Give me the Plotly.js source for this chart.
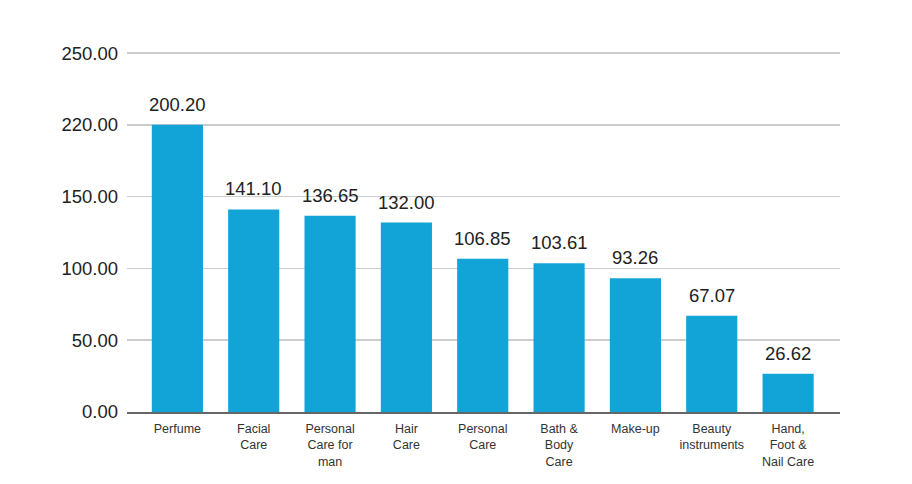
<!DOCTYPE html>
<html>
<head>
<meta charset="utf-8">
<script src="https://cdn.plot.ly/plotly-3.0.1.min.js"></script>
<style>html,body{margin:0;padding:0;background:#fff;}#chart{width:912px;height:484px;}</style>
</head>
<body>
<div id="chart"></div>
<script>
const categories = ["Perfume", "Facial<br>Care", "Personal<br>Care for<br>man", "Hair<br>Care", "Personal<br>Care", "Bath &<br>Body<br>Care", "Make-up", "Beauty<br>instruments", "Hand,<br>Foot &<br>Nail Care"];
const values = [200.20, 141.10, 136.65, 132.00, 106.85, 103.61, 93.26, 67.07, 26.62];
const valueLabels = ["200.20", "141.10", "136.65", "132.00", "106.85", "103.61", "93.26", "67.07", "26.62"];
const yTickVals = [0, 50, 100, 150, 200, 250];
const yTickText = ["0.00", "50.00", "100.00", "150.00", "220.00", "250.00"];

const trace = {
  type: 'bar',
  x: categories,
  y: values,
  marker: {color: '#12a4d7'},
  hoverinfo: 'none'
};

const annotations = categories.map((c, i) => ({
  x: c, y: values[i], xref: 'x', yref: 'y',
  text: valueLabels[i], showarrow: false,
  yanchor: 'bottom', yshift: 8,
  font: {family: 'Liberation Sans, Arial, sans-serif', size: 18.5, color: '#222'}
}));

const layout = {
  width: 912, height: 484,
  margin: {l: 127, r: 72, t: 52, b: 72},
  paper_bgcolor: '#fff', plot_bgcolor: '#fff',
  showlegend: false,
  bargap: 0.33,
  font: {family: 'Liberation Sans, Arial, sans-serif', color: '#333'},
  xaxis: {
    type: 'category',
    range: [-0.66, 8.68],
    showgrid: false,
    showline: true, linecolor: '#666', linewidth: 2,
    ticks: '', tickfont: {size: 12.5, color: '#333'},
    ticklabelstandoff: 4,
    tickangle: 0
  },
  yaxis: {
    range: [0, 250.8],
    tickvals: yTickVals, ticktext: yTickText,
    showgrid: true, gridcolor: '#cccccc', gridwidth: 1.5,
    zeroline: false, showline: false, ticks: '',
    ticklabelstandoff: 8,
    tickfont: {size: 18.5, color: '#222'}
  },
  annotations: annotations
};

Plotly.newPlot('chart', [trace], layout, {displayModeBar: false, staticPlot: true});
</script>
</body>
</html>
